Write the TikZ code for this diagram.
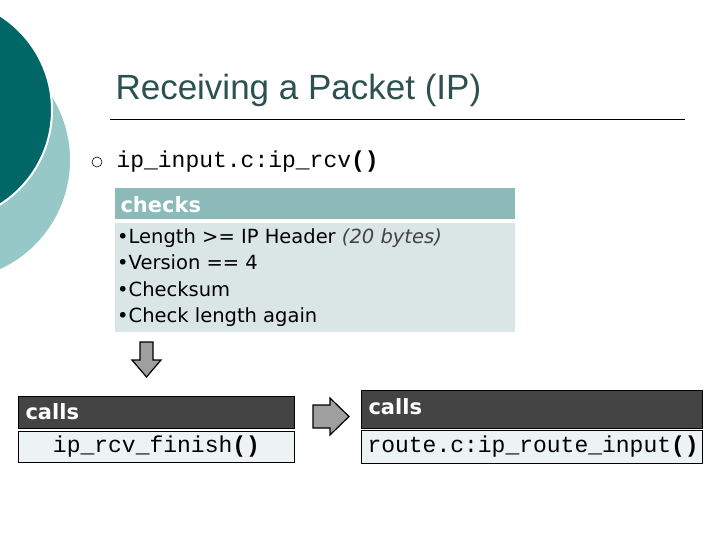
\documentclass[tikz,border=0pt]{standalone}
\usepackage{fontspec}
\setsansfont{DejaVu Sans}
\setmonofont{Liberation Mono}
\definecolor{darkteal}{RGB}{0,102,102}
\definecolor{lightteal}{RGB}{150,200,200}
\definecolor{headteal}{RGB}{139,186,185}
\definecolor{bodyteal}{RGB}{218,229,229}
\definecolor{darkhead}{RGB}{68,68,68}
\definecolor{callbody}{RGB}{237,242,242}
\definecolor{titlecol}{RGB}{45,80,80}
\tikzset{
  headbox/.style={draw=black, line width=1pt, fill=darkhead, inner sep=0pt, anchor=north west},
  bodybox/.style={draw=black, line width=1pt, fill=callbody, inner sep=0pt, anchor=north west},
  headtext/.style={anchor=west, text=white, font=\sffamily\bfseries\fontsize{21}{24}\selectfont},
  codetext/.style={font=\ttfamily\fontsize{23}{26}\selectfont},
  blockarrow/.style={draw=black, line width=1.2pt, fill=gray!75, line join=miter}
}
\begin{document}
\begin{tikzpicture}[x=1pt,y=1pt,yscale=-1]
\useasboundingbox (0,0) rectangle (720,540);

%Shape: Circles top left
\fill[lightteal] (-50,160) circle (120);
\fill[darkteal, draw=white, line width=2pt] (-60,110) circle (112);

% Title
\node (title) [anchor=west, text=titlecol, font=\fontsize{35}{40}\selectfont] at (112,90) {\fontspec{Liberation Sans}Receiving a Packet (IP)};
\draw[line width=1pt] (110,120) -- (685,120);

% Bullet
\node (bul) [draw=black, circle, line width=0.6pt, inner sep=0pt, minimum size=10pt] at (97,162) {};
\node (rcv) [anchor=west, codetext] at (113,162) {ip\_input.c:ip\_rcv\textbf{()}};

% checks
\node (checkhead) [fill=headteal, minimum width=400pt, minimum height=31pt, anchor=north west, inner sep=0pt] at (115,188) {};
\node [headtext] at (117,204.5) {checks};
\node (checkbody) [fill=bodyteal, minimum width=400pt, minimum height=109pt, anchor=north west, inner sep=0pt] at (115,223) {};
\node [anchor=north west, align=left, inner sep=0pt, font=\sffamily\fontsize{19.5}{26.5}\selectfont] at (117,228)
  {\textbullet Length >= IP Header \textcolor{darkhead}{\itshape(20 bytes)}\\
   \textbullet Version == 4\\
   \textbullet Checksum\\
   \textbullet Check length again};

% Down arrow
\draw[blockarrow] (140,342) -- (153,342) -- (153,360) -- (161,360) -- (146.5,377) -- (132,360) -- (140,360) -- cycle;

% Left calls box
\node (lhead) [headbox, minimum width=276pt, minimum height=32pt] at (18,396) {};
\node [headtext] at (22,412) {calls};
\node (lbody) [bodybox, minimum width=276pt, minimum height=31pt] at (18,431) {};
\node [codetext] at (lbody.center) {ip\_rcv\_finish\textbf{()}};

% Right arrow
\draw[blockarrow] (313,405) -- (330,405) -- (330,398) -- (349,416.5) -- (330,435) -- (330,428) -- (313,428) -- cycle;

% Right calls box
\node (rhead) [headbox, minimum width=341pt, minimum height=38pt] at (361,390) {};
\node [headtext] at (365,407) {calls};
\node (rbody) [bodybox, minimum width=341pt, minimum height=33pt] at (361,430) {};
\node [anchor=west, codetext] at (364,447) {route.c:ip\_route\_input\textbf{()}};

\end{tikzpicture}
\end{document}
